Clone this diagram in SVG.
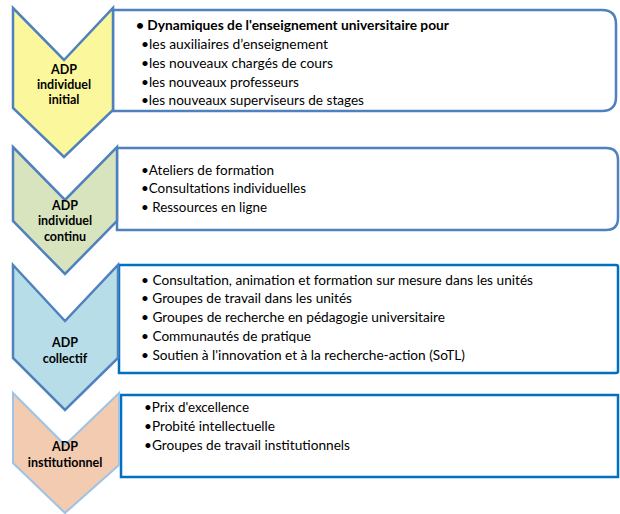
<svg xmlns="http://www.w3.org/2000/svg" width="620" height="514" viewBox="0 0 620 514">
<style>
.box1{fill:#fff;stroke:#4F81BD;stroke-width:2.5}
.box2{fill:#fff;stroke:#0070C0;stroke-width:2.5}
.chev{stroke:#4F81BD;stroke-width:2.5;stroke-linejoin:miter}
.lab{font-family:Lato,"Liberation Sans",Arial,sans-serif;font-size:12.5px;font-weight:bold;fill:#000;text-anchor:middle}
.t{font-family:Lato,"Liberation Sans",Arial,sans-serif;font-size:13.5px;fill:#000}
.b{font-weight:bold}
</style>
<rect width="620" height="514" fill="#fff"/>
<g id="level1">
<path class="box1" d="M113,10 H602 Q616,10 616,24 V97 Q616,111 602,111 H113 Z"/>
<polygon class="chev" fill="#FAF79C" points="13,8 64,60 113,8 113,110 64,157 13,108"/>
<text class="lab" x="64" y="74">ADP</text>
<text class="lab" x="64" y="89">individuel</text>
<text class="lab" x="64" y="104">initial</text>
<text class="t b" x="136" y="30" textLength="313" lengthAdjust="spacingAndGlyphs">• Dynamiques de l'enseignement universitaire pour</text>
<text class="t" x="141" y="49" textLength="187" lengthAdjust="spacingAndGlyphs">•les auxiliaires d’enseignement</text>
<text class="t" x="141" y="68" textLength="192" lengthAdjust="spacingAndGlyphs">•les  nouveaux chargés de cours</text>
<text class="t" x="141" y="87" textLength="158" lengthAdjust="spacingAndGlyphs">•les nouveaux professeurs</text>
<text class="t" x="141" y="105" textLength="223" lengthAdjust="spacingAndGlyphs">•les nouveaux superviseurs de stages</text>
</g>
<g id="level2">
<path class="box1" d="M117,148 H606 Q618,148 618,160 V218 Q618,230 606,230 H117 Z"/>
<polygon class="chev" fill="#D7E4BD" points="13,147 65,200 117,147 117,221 65,274 13,221"/>
<text class="lab" x="65" y="210">ADP</text>
<text class="lab" x="65" y="225">individuel</text>
<text class="lab" x="65" y="241">continu</text>
<text class="t" x="141" y="175" textLength="133" lengthAdjust="spacingAndGlyphs">•Ateliers de formation</text>
<text class="t" x="141" y="193" textLength="165" lengthAdjust="spacingAndGlyphs">•Consultations individuelles</text>
<text class="t" x="141" y="212" textLength="126" lengthAdjust="spacingAndGlyphs">• Ressources en ligne</text>
</g>
<g id="level3">
<path class="box2" d="M119,265 H616 Q618,265 618,267 V371 Q618,373 616,373 H119 Z"/>
<polygon class="chev" fill="#B7DDE8" points="13,265 65,321 118,265 118,358 65,410 13,358"/>
<text class="lab" x="65" y="347">ADP</text>
<text class="lab" x="65" y="363">collectif</text>
<text class="t" x="141" y="285" textLength="392" lengthAdjust="spacingAndGlyphs">• Consultation, animation et formation sur mesure dans les unités</text>
<text class="t" x="141" y="303" textLength="211" lengthAdjust="spacingAndGlyphs">• Groupes de travail dans les unités</text>
<text class="t" x="141" y="322" textLength="304" lengthAdjust="spacingAndGlyphs">• Groupes de recherche en pédagogie universitaire</text>
<text class="t" x="141" y="341" textLength="170" lengthAdjust="spacingAndGlyphs">• Communautés de pratique</text>
<text class="t" x="141" y="360" textLength="324" lengthAdjust="spacingAndGlyphs">• Soutien à l'innovation et à la recherche-action (SoTL)</text>
</g>
<g id="level4">
<rect class="box2" x="121" y="395" width="497" height="82"/>
<polygon fill="#F2CBB0" stroke="#9DC3E6" stroke-width="2" points="13,393 65,445 119,393 119,465 65,513 13,463"/>
<text class="lab" x="65" y="451">ADP</text>
<text class="lab" x="65" y="467">institutionnel</text>
<text class="t" x="144" y="412" textLength="105" lengthAdjust="spacingAndGlyphs">•Prix d'excellence</text>
<text class="t" x="144" y="431" textLength="131" lengthAdjust="spacingAndGlyphs">•Probité intellectuelle</text>
<text class="t" x="144" y="450" textLength="206" lengthAdjust="spacingAndGlyphs">•Groupes de travail institutionnels</text>
</g>
<g id="connectors"/>
</svg>
